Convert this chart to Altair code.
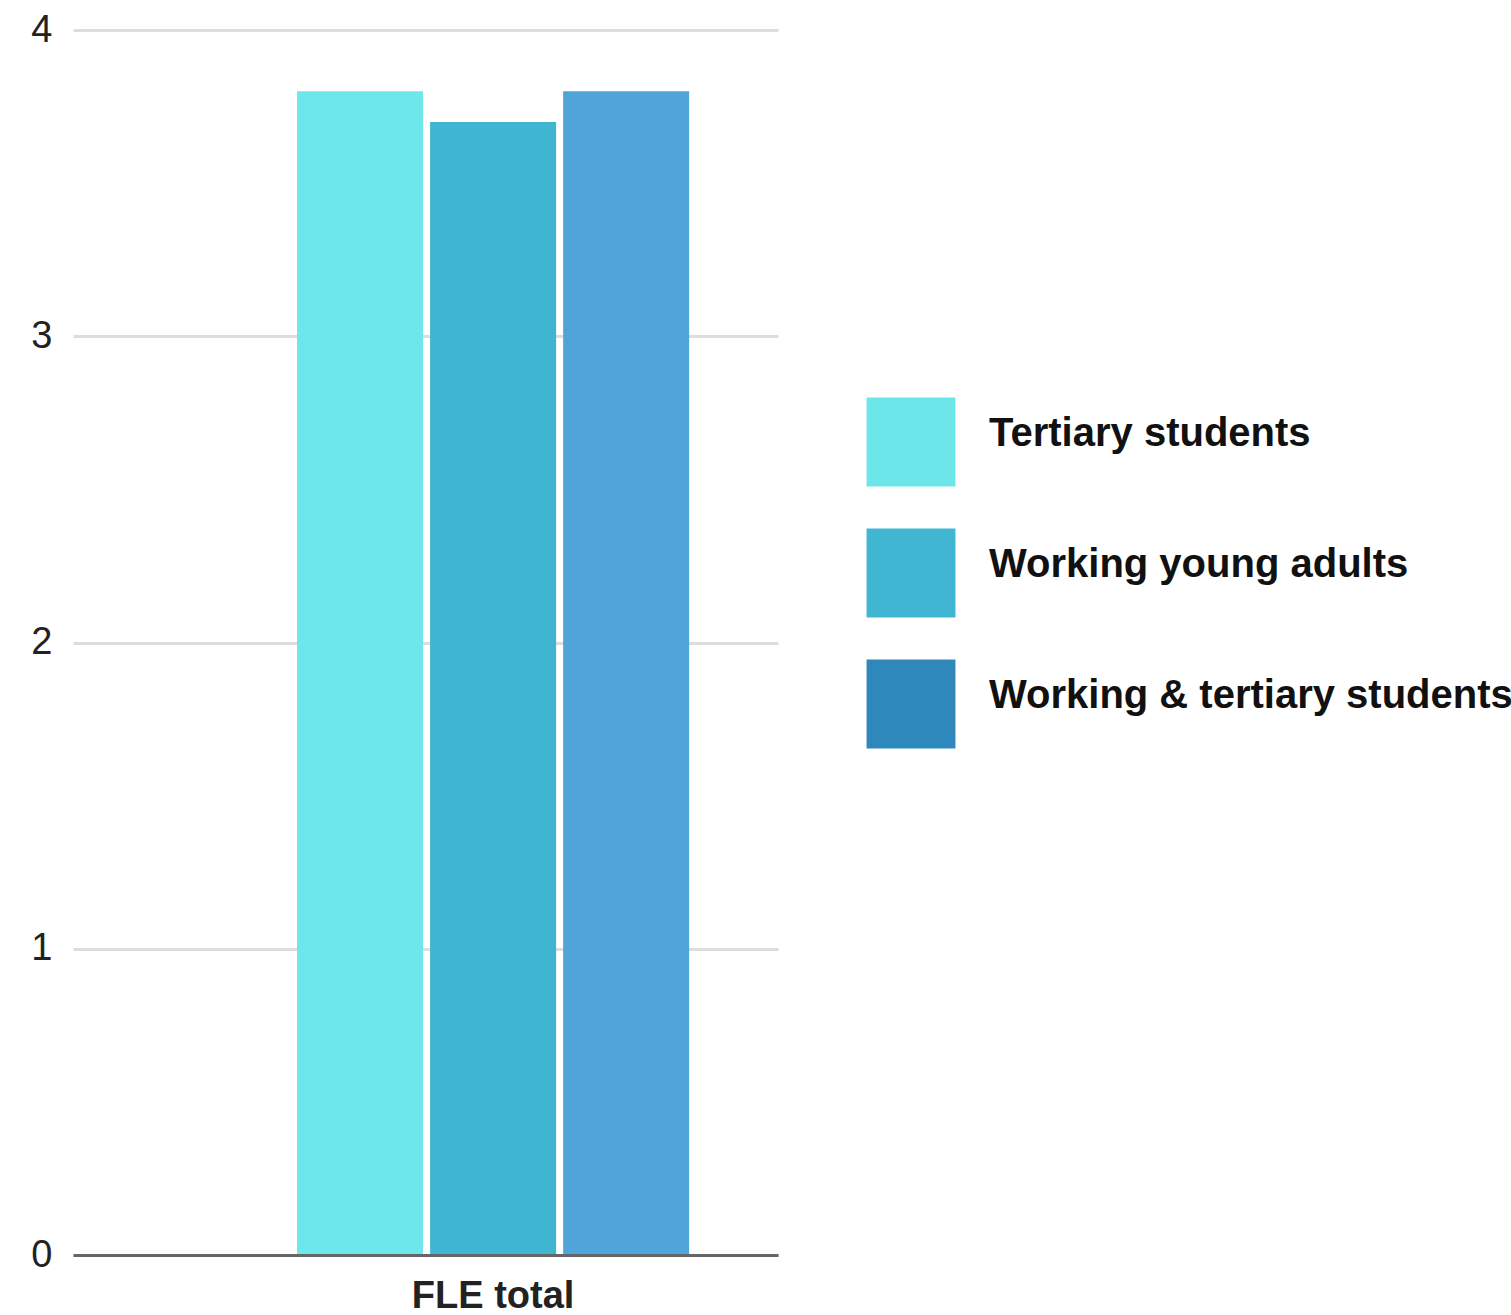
import altair as alt
import pandas as pd

categories = ["FLE total"]
series = ["Tertiary students", "Working young adults", "Working & tertiary students"]
values = [3.8, 3.7, 3.8]
bar_colors = ["#6de7e9", "#40b5d2", "#4fa5da"]
legend_colors = ["#6ce6e8", "#40b6d3", "#2e88bb"]
legend_order = [0, 1, 2]
y_ticks = [0, 1, 2, 3, 4]

df = pd.DataFrame({
    "category": [categories[0]] * len(series),
    "series": series,
    "value": values,
})
legend_df = pd.DataFrame({"series": series, "order": legend_order})

FONT = "Liberation Sans"

bars = alt.Chart(df).mark_bar().encode(
    x=alt.X(
        "category:N",
        scale=alt.Scale(paddingInner=0, paddingOuter=0.399, align=0.716),
        axis=alt.Axis(
            title=None, labelAngle=0, labelFontSize=38, labelFont=FONT,
            labelFontWeight="bold", labelColor="#222", ticks=False,
            domainColor="#666", domainWidth=3, labelPadding=22, zindex=1,
            labelBaseline="top", grid=False,
        ),
    ),
    xOffset=alt.XOffset(
        "series:N", sort=series,
        scale=alt.Scale(paddingInner=0.053, paddingOuter=0),
    ),
    y=alt.Y(
        "value:Q",
        scale=alt.Scale(domain=[0, 4]),
        axis=alt.Axis(
            values=y_ticks, title=None, grid=True, gridColor="#dddddd",
            gridWidth=3, domain=False, ticks=False, labelFontSize=38,
            labelFont=FONT, labelPadding=21, labelColor="#222", format="d",
        ),
    ),
    color=alt.Color(
        "series:N", sort=series,
        scale=alt.Scale(domain=series, range=bar_colors), legend=None,
    ),
)

leg_y = alt.Y(
    "order:Q",
    scale=alt.Scale(domain=[-3.145, 6.206], reverse=True, nice=False, zero=False),
    axis=None,
)

swatches = alt.Chart(legend_df).mark_square(size=7900, opacity=1).encode(
    x=alt.value(838),
    y=leg_y,
    color=alt.Color(
        "series:N", sort=series,
        scale=alt.Scale(domain=series, range=legend_colors), legend=None,
    ),
)

labels = alt.Chart(legend_df).mark_text(
    align="left", baseline="middle", font=FONT, fontSize=40,
    fontWeight="bold", color="#111", dy=-8,
).encode(
    x=alt.value(916),
    y=leg_y,
    text="series:N",
)

legend = alt.layer(swatches, labels).resolve_scale(color="independent")

chart = alt.layer(bars, legend).resolve_scale(
    y="independent", color="independent"
).properties(
    width=705,
    height=1225,
    autosize=alt.AutoSizeParams(type="none"),
    padding={"left": 73, "top": 30, "right": 733, "bottom": 60},
).configure(
    font=FONT, background="white", view=alt.ViewConfig(stroke=None)
)

chart.save("out.html", embed_options={"renderer": "svg", "actions": False})
